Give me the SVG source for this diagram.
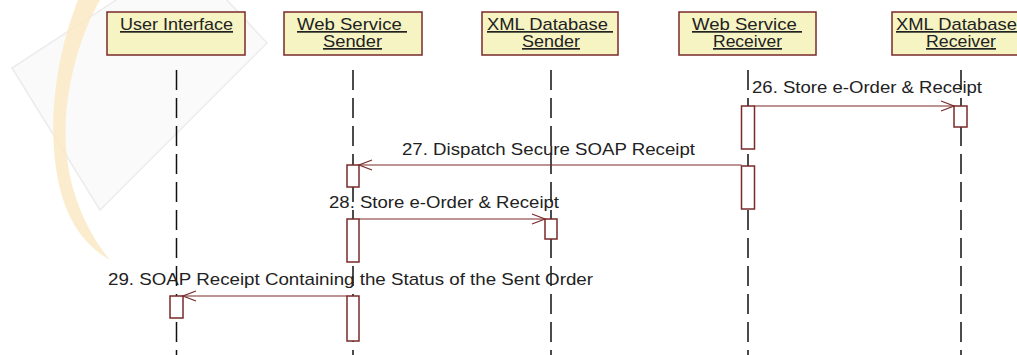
<svg xmlns="http://www.w3.org/2000/svg" width="1017" height="355" viewBox="0 0 1017 355">
<style>
.hdr{fill:#f6f4c2;stroke:#7a2a2a;stroke-width:1.5}
.t{font-family:"Liberation Sans",Arial,sans-serif;font-size:17px;fill:#222}
.u{text-decoration:underline}
.life{stroke:#111;stroke-width:1.5;stroke-dasharray:20 8;fill:none}
.act{fill:#fff;stroke:#7a2a2a;stroke-width:1.5}
.msg{stroke:#7a2a2a;stroke-width:1.2;fill:none}
</style>
<rect width="1017" height="355" fill="#fff"/>
<g id="watermark">
  <polygon points="12,68 100,210 267,43 185,-45" fill="#fafafa" stroke="#ececec" stroke-width="1.5"/>
  <path d="M78,0 C58,50 46,120 58,180 C66,220 84,245 110,260 C92,238 74,205 68,165 C60,115 72,50 100,0 Z" fill="#fbe9c6" opacity="0.85"/>
</g>
<g id="user-interface">
  <rect class="hdr" x="107" y="12" width="138" height="43"/>
  <text class="t u" x="120" y="30" textLength="113" lengthAdjust="spacingAndGlyphs">User Interface</text>
  <line class="life" x1="176.5" y1="70" x2="176.5" y2="355"/>
  <rect class="act" x="170" y="296" width="13" height="22"/>
</g>
<g id="web-service-sender">
  <rect class="hdr" x="284" y="12" width="138" height="43"/>
  <text class="t u" x="297" y="30" textLength="110" lengthAdjust="spacingAndGlyphs" xml:space="preserve">Web Service </text>
  <text class="t u" x="323" y="47" textLength="59" lengthAdjust="spacingAndGlyphs">Sender</text>
  <line class="life" x1="353" y1="70" x2="353" y2="355"/>
  <rect class="act" x="347" y="165" width="12" height="22"/>
  <rect class="act" x="347" y="219" width="12" height="43"/>
  <rect class="act" x="347" y="296" width="12" height="45"/>
</g>
<g id="xml-database-sender">
  <rect class="hdr" x="482" y="12" width="136" height="43"/>
  <text class="t u" x="487" y="30" textLength="126" lengthAdjust="spacingAndGlyphs" xml:space="preserve">XML Database </text>
  <text class="t u" x="522" y="47" textLength="58" lengthAdjust="spacingAndGlyphs">Sender</text>
  <line class="life" x1="551" y1="70" x2="551" y2="355"/>
  <rect class="act" x="545" y="219" width="12" height="20"/>
</g>
<g id="web-service-receiver">
  <rect class="hdr" x="679" y="12" width="137" height="43"/>
  <text class="t u" x="692" y="30" textLength="110" lengthAdjust="spacingAndGlyphs" xml:space="preserve">Web Service </text>
  <text class="t u" x="713" y="47" textLength="69" lengthAdjust="spacingAndGlyphs">Receiver</text>
  <line class="life" x1="748" y1="70" x2="748" y2="355"/>
  <rect class="act" x="741.5" y="106" width="13" height="43"/>
  <rect class="act" x="741.5" y="166" width="13" height="43"/>
</g>
<g id="xml-database-receiver">
  <rect class="hdr" x="892" y="12" width="138" height="43"/>
  <text class="t u" x="896" y="30" textLength="121" lengthAdjust="spacingAndGlyphs">XML Database</text>
  <text class="t u" x="926" y="47" textLength="70" lengthAdjust="spacingAndGlyphs">Receiver</text>
  <line class="life" x1="961" y1="70" x2="961" y2="355"/>
  <rect class="act" x="954" y="106" width="13" height="21"/>
</g>
<g id="connectors">
  <line class="msg" x1="754.5" y1="106" x2="954" y2="106"/>
  <polyline class="msg" points="941,101 954,106 941,111"/>
  <text class="t" x="752" y="93" textLength="230" lengthAdjust="spacingAndGlyphs">26. Store e-Order &amp; Receipt</text>
  <line class="msg" x1="741.5" y1="165" x2="359" y2="165"/>
  <polyline class="msg" points="372,160 359,165 372,170"/>
  <text class="t" x="402" y="155" textLength="293" lengthAdjust="spacingAndGlyphs">27. Dispatch Secure SOAP Receipt</text>
  <line class="msg" x1="359" y1="219" x2="545" y2="219"/>
  <polyline class="msg" points="532,214 545,219 532,224"/>
  <text class="t" x="329" y="208" textLength="230" lengthAdjust="spacingAndGlyphs">28. Store e-Order &amp; Receipt</text>
  <line class="msg" x1="347" y1="296" x2="183" y2="296"/>
  <polyline class="msg" points="196,291 183,296 196,301"/>
  <text class="t" x="108" y="285" textLength="485" lengthAdjust="spacingAndGlyphs">29. SOAP Receipt Containing the Status of the Sent Order</text>
</g>
</svg>
